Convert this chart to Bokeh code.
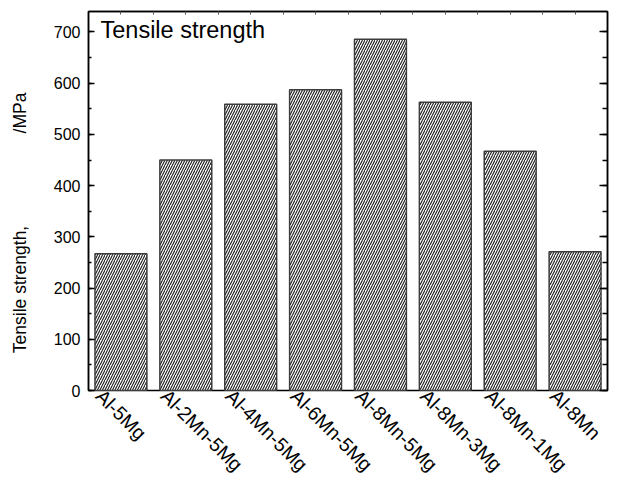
import math
from bokeh.plotting import figure
from bokeh.models import (Range1d, LinearAxis, SingleIntervalTicker, FixedTicker,
                          ColumnDataSource, Label, CustomJSTickFormatter)
from bokeh.embed import file_html
from bokeh.resources import INLINE

# ---- data ----
alloys = ["Al-5Mg", "Al-2Mn-5Mg", "Al-4Mn-5Mg", "Al-6Mn-5Mg",
          "Al-8Mn-5Mg", "Al-8Mn-3Mg", "Al-8Mn-1Mg", "Al-8Mn"]
tensile_mpa = [267, 450, 559, 587, 686, 563, 467, 271]
y_min, y_max = 0, 740
y_tick_step = 100
title_text = "Tensile strength"
NB = "\u00a0"
y_label = "Tensile strength," + NB * 19 + "/MPa" + NB * 9

FONT = "Liberation Sans"

# slot centres derived from category order
slot = [i + 0.5 for i in range(len(alloys))]
src = ColumnDataSource(dict(alloy=alloys, mpa=tensile_mpa, slot=slot))

p = figure(width=614, height=486,
           x_range=Range1d(0, len(alloys)),
           y_range=Range1d(y_min, y_max),
           x_axis_location=None,
           output_backend="svg", toolbar_location=None,
           min_border_left=88, min_border_right=7,
           min_border_top=11, min_border_bottom=96)

p.grid.visible = False
p.outline_line_color = "black"
p.outline_line_width = 1.5
p.background_fill_color = "white"
p.border_fill_color = "white"

p.vbar(x="slot", top="mpa", width=0.8, source=src,
       fill_color="white", line_color="#3c3c3c", line_width=1.5,
       hatch_pattern="/", hatch_color="#1a1a1a", hatch_scale=5, hatch_weight=1.1)

# left axis
ya = p.yaxis[0]
ya.ticker = SingleIntervalTicker(interval=y_tick_step, num_minor_ticks=2)
ya.major_tick_in = 6
ya.major_tick_out = 0
ya.minor_tick_in = 3
ya.minor_tick_out = 0
ya.axis_line_width = 1.5
ya.major_tick_line_width = 1.5
ya.minor_tick_line_width = 1.5
ya.major_label_text_font = FONT
ya.major_label_text_font_size = "16px"
ya.major_label_text_color = "black"
ya.major_label_standoff = 8
ya.axis_label = y_label
ya.axis_label_text_font = FONT
ya.axis_label_text_font_size = "17.5px"
ya.axis_label_text_font_style = "normal"
ya.axis_label_text_color = "black"
ya.axis_label_standoff = 21

blank = CustomJSTickFormatter(code="return ''")

# right axis (ticks only)
ra = LinearAxis(ticker=SingleIntervalTicker(interval=y_tick_step, num_minor_ticks=2),
                formatter=blank, major_tick_in=8, major_tick_out=0,
                minor_tick_in=5, minor_tick_out=0, major_label_standoff=0,
                axis_line_width=1.5, major_tick_line_width=1.5, minor_tick_line_width=1.5,
                major_label_text_font_size="1px")
p.add_layout(ra, "right")

# top axis (small ticks at category centres and boundaries)
ta = LinearAxis(ticker=SingleIntervalTicker(interval=0.5, num_minor_ticks=0),
                formatter=blank, major_tick_in=3, major_tick_out=0,
                minor_tick_in=0, minor_tick_out=0, major_label_standoff=0,
                axis_line_width=1.5, major_tick_line_color="#555555",
                major_label_text_font_size="1px")
p.add_layout(ta, "above")

# bottom axis carrying the rotated category names; its range is shifted
# so each name starts a little left of its bar centre
label_shift = 0.33
p.extra_x_ranges = {"names": Range1d(label_shift, len(alloys) + label_shift)}
ba = LinearAxis(x_range_name="names", ticker=FixedTicker(ticks=slot),
                formatter=CustomJSTickFormatter(args=dict(names=alloys),
                                                code="const i = Math.floor(tick); return (i >= 0 && i < names.length) ? names[i] : '';"),
                major_label_orientation=-math.pi / 4,
                major_tick_in=0, major_tick_out=0, minor_tick_in=0, minor_tick_out=0,
                axis_line_color=None, major_tick_line_color=None, minor_tick_line_color=None,
                major_label_standoff=2,
                major_label_text_font=FONT, major_label_text_font_size="19.5px",
                major_label_text_color="black")
p.add_layout(ba, "below")

title = Label(x=12, y=361, x_units="screen", y_units="screen", text=title_text,
              text_font=FONT, text_font_size="23.5px", text_color="black",
              text_baseline="alphabetic", text_align="left")
p.add_layout(title)

open("out.html", "w").write(file_html(p, INLINE))
